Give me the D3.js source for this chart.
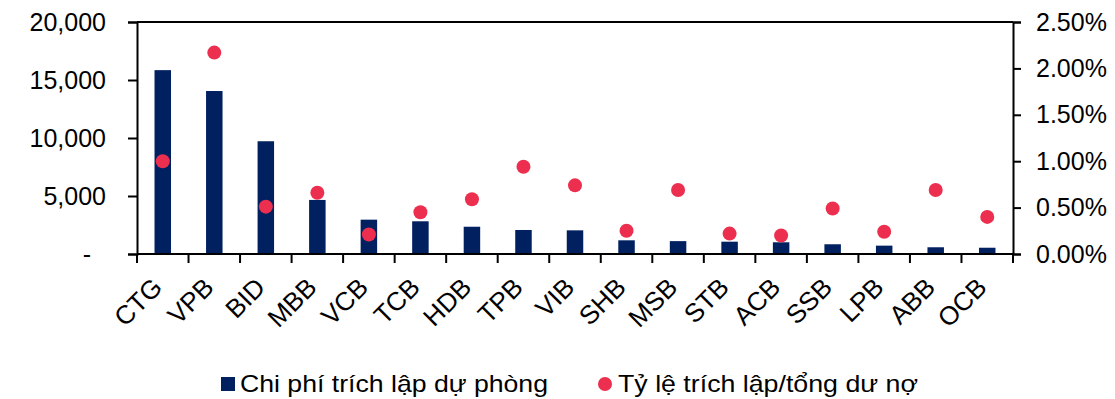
<!DOCTYPE html>
<html>
<head>
<meta charset="utf-8">
<script src="https://cdn.jsdelivr.net/npm/d3@7"></script>
<style>
    body { margin: 0; background: #fff; }
    svg { display: block; font-family: "Liberation Sans", Arial, sans-serif; }
</style>
</head>
<body>
<div id="chart"></div>
<script>
// data
const banks = ["CTG", "VPB", "BID", "MBB", "VCB", "TCB", "HDB", "TPB", "VIB",
    "SHB", "MSB", "STB", "ACB", "SSB", "LPB", "ABB", "OCB"];
const provisionCost = [15850, 14050, 9720, 4660, 2960, 2820, 2350, 2070, 2040,
    1180, 1110, 1060, 1010, 840, 720, 580, 540];
const provisionRatio = [0.0100, 0.0217, 0.0051, 0.0066, 0.0021, 0.0045, 0.0059, 0.0094, 0.0074,
    0.0025, 0.0069, 0.0022, 0.0020, 0.0049, 0.0024, 0.0069, 0.0040];
const leftTicks = [0, 5000, 10000, 15000, 20000];
const rightTicks = [0, 0.005, 0.01, 0.015, 0.02, 0.025];
const legendLabels = ["Chi phí trích lập dự phòng", "Tỷ lệ trích lập/tổng dư nợ"];

const width = 1115, height = 399;
const margin = { top: 22, right: 102, bottom: 145, left: 137 };
const innerW = width - margin.left - margin.right;
const innerH = height - margin.top - margin.bottom;

const barColor = "#002060";
const dotColor = "#EC2F4F";

const svg = d3.select("#chart").append("svg")
    .attr("width", width)
    .attr("height", height);

const g = svg.append("g")
    .attr("transform", "translate(" + margin.left + "," + margin.top + ")");

const x = d3.scaleBand()
    .domain(banks)
    .range([0, innerW])
    .paddingInner(0.68)
    .paddingOuter(0.34);

const yLeft = d3.scaleLinear().domain([0, 20000]).range([innerH, 0]);
const yRight = d3.scaleLinear().domain([0, 0.025]).range([innerH, 0]);

const data = banks.map((b, i) => ({ bank: b, cost: provisionCost[i], ratio: provisionRatio[i] }));

// bars
g.selectAll(".bar")
    .data(data)
    .join("rect")
    .attr("class", "bar")
    .attr("x", d => x(d.bank))
    .attr("width", x.bandwidth())
    .attr("y", d => yLeft(d.cost))
    .attr("height", d => innerH - yLeft(d.cost))
    .attr("fill", barColor);

// dots
g.selectAll(".dot")
    .data(data)
    .join("circle")
    .attr("class", "dot")
    .attr("cx", d => x(d.bank) + x.bandwidth() / 2)
    .attr("cy", d => yRight(d.ratio))
    .attr("r", 7)
    .attr("fill", dotColor);

// top border
g.append("line")
    .attr("x1", 0).attr("x2", innerW)
    .attr("y1", 0).attr("y2", 0)
    .attr("stroke", "#000")
    .attr("stroke-width", 2);

// left axis
const fmt = d3.format(",");
const leftAxis = g.append("g")
    .call(d3.axisLeft(yLeft).tickValues(leftTicks).tickSize(9).tickPadding(22)
        .tickFormat(d => d === 0 ? "-" : fmt(d)));
leftAxis.selectAll("text")
    .filter(d => d === 0)
    .attr("dx", -15);

// right axis
const rightAxis = g.append("g")
    .attr("transform", "translate(" + innerW + ",0)")
    .call(d3.axisRight(yRight).tickValues(rightTicks).tickSize(8).tickPadding(15)
        .tickFormat(d3.format(".2%")));

// bottom axis, ticks at category boundaries
const bottomAxis = g.append("g")
    .attr("transform", "translate(0," + innerH + ")");
bottomAxis.append("line")
    .attr("x1", 0).attr("x2", innerW)
    .attr("stroke", "#000").attr("stroke-width", 2);
bottomAxis.selectAll(".xtick")
    .data(d3.range(banks.length + 1))
    .join("line")
    .attr("class", "xtick")
    .attr("x1", i => i * x.step())
    .attr("x2", i => i * x.step())
    .attr("y1", 0).attr("y2", 9)
    .attr("stroke", "#000").attr("stroke-width", 2);
bottomAxis.selectAll(".xlabel")
    .data(banks)
    .join("text")
    .attr("class", "xlabel")
    .attr("transform", d => "translate(" + (x(d) + x.bandwidth() / 2 + 1) + ",35) rotate(-45)")
    .style("text-anchor", "end")
    .style("font-size", "26px")
    .style("fill", "#000")
    .text(d => d);

[leftAxis, rightAxis].forEach(a => {
    a.select(".domain").attr("stroke", "#000").attr("stroke-width", 2);
    a.selectAll(".tick line").attr("stroke", "#000").attr("stroke-width", 2);
    a.selectAll("text")
        .style("font-size", "25px")
        .style("font-family", "'Liberation Sans', Arial, sans-serif")
        .style("fill", "#000");
});

// legend
const legend = svg.append("g").attr("transform", "translate(0,384)");
legend.append("rect")
    .attr("x", 221).attr("y", -7)
    .attr("width", 14).attr("height", 14)
    .attr("fill", barColor);
legend.append("text")
    .attr("x", 240).attr("dy", "0.35em")
    .attr("textLength", 308)
    .attr("lengthAdjust", "spacingAndGlyphs")
    .style("font-size", "24px")
    .text(legendLabels[0]);
legend.append("circle")
    .attr("cx", 605).attr("cy", 0)
    .attr("r", 7)
    .attr("fill", dotColor);
legend.append("text")
    .attr("x", 618).attr("dy", "0.35em")
    .attr("textLength", 300)
    .attr("lengthAdjust", "spacingAndGlyphs")
    .style("font-size", "24px")
    .text(legendLabels[1]);
</script>
</body>
</html>
